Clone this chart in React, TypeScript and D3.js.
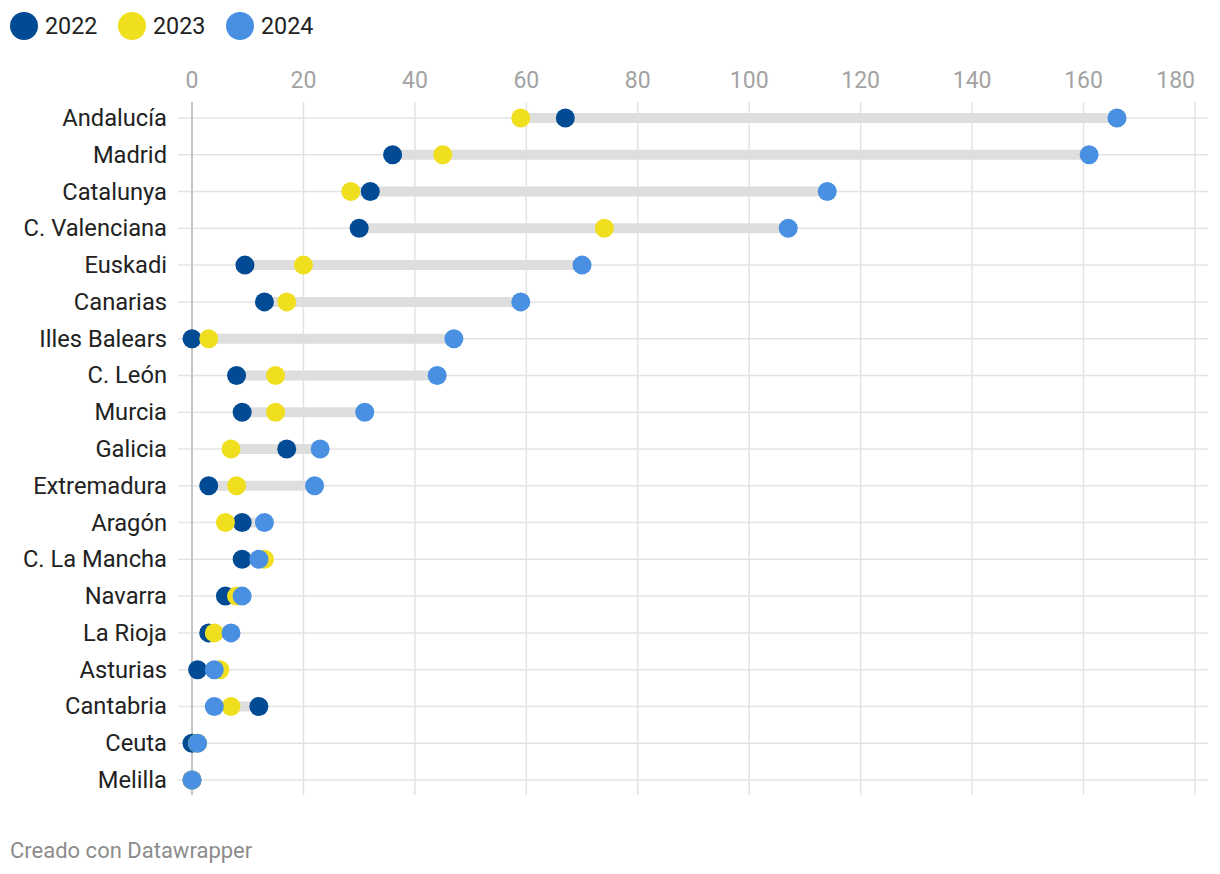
import React from "react";
import * as d3 from "d3";

const regions = [
  "Andalucía", "Madrid", "Catalunya", "C. Valenciana", "Euskadi", "Canarias",
  "Illes Balears", "C. León", "Murcia", "Galicia", "Extremadura", "Aragón",
  "C. La Mancha", "Navarra", "La Rioja", "Asturias", "Cantabria", "Ceuta", "Melilla",
];
const values2022 = [67, 36, 32, 30, 9.5, 13, 0, 8, 9, 17, 3, 9, 9, 6, 3, 1, 12, 0, 0];
const values2023 = [59, 45, 28.5, 74, 20, 17, 3, 15, 15, 7, 8, 6, 13, 8, 4, 5, 7, 1, 0];
const values2024 = [166, 161, 114, 107, 70, 59, 47, 44, 31, 23, 22, 13, 12, 9, 7, 4, 4, 1, 0];
const years = ["2022", "2023", "2024"];
const xTicks = [0, 20, 40, 60, 80, 100, 120, 140, 160, 180];

const colors = ["#004b93", "#f0df1f", "#4a90e2"];
const font = "Roboto, 'Noto Sans', sans-serif";

export default function App() {
  const W = 1220, H = 874;
  const x = d3.scaleLinear().domain([0, 180]).range([192, 1195]);
  const y = d3.scalePoint<string>().domain(regions).range([118, 780]);
  const series = [values2022, values2023, values2024];
  const legendX = [24, 132, 240];

  return (
    <svg width={W} height={H} style={{ position: "absolute", left: 0, top: 0, background: "#fff" }}>
      {/* legend */}
      {years.map((yr, i) => (
        <g key={yr}>
          <circle cx={legendX[i]} cy={26} r={14} fill={colors[i]} />
          <text x={legendX[i] + 21} y={34} fontFamily={font} fontSize={23.3} fill="#222">{yr}</text>
        </g>
      ))}
      {/* vertical grid */}
      {xTicks.map((t, i) => (
        <g key={t}>
          <line x1={x(t)} x2={x(t)} y1={102} y2={795} stroke={t === 0 ? "#c4c4c4" : "#e3e3e3"} strokeWidth={t === 0 ? 2 : 1.5} />
          <text x={x(t)} y={88} textAnchor={i === xTicks.length - 1 ? "end" : "middle"} fontFamily={font} fontSize={23} fill="#a3a3a3">{t}</text>
        </g>
      ))}
      {/* horizontal grid + labels */}
      {regions.map((r) => (
        <g key={r}>
          <line x1={178} x2={1208} y1={y(r)!} y2={y(r)!} stroke="#e3e3e3" strokeWidth={1.5} />
          <text x={167} y={y(r)! + 8} textAnchor="end" fontFamily={font} fontSize={23.7} fill="#222">{r}</text>
        </g>
      ))}
      {/* zero line on top of horizontal grid */}
      <line x1={x(0)} x2={x(0)} y1={102} y2={795} stroke="#c4c4c4" strokeWidth={2} />
      {/* range bars */}
      {regions.map((r, i) => {
        const vals = series.map((s) => s[i]);
        const lo = d3.min(vals)!, hi = d3.max(vals)!;
        return (
          <line key={r} x1={x(lo)} x2={x(hi)} y1={y(r)!} y2={y(r)!} stroke="#dedede" strokeWidth={10} />
        );
      })}
      {/* dots */}
      {series.map((s, si) =>
        regions.map((r, i) => (
          <circle key={r + si} cx={x(s[i])} cy={y(r)!} r={9.5} fill={colors[si]} />
        ))
      )}
      <text x={10} y={858} fontFamily={font} fontSize={22} fill="#8c8c8c">Creado con Datawrapper</text>
    </svg>
  );
}
